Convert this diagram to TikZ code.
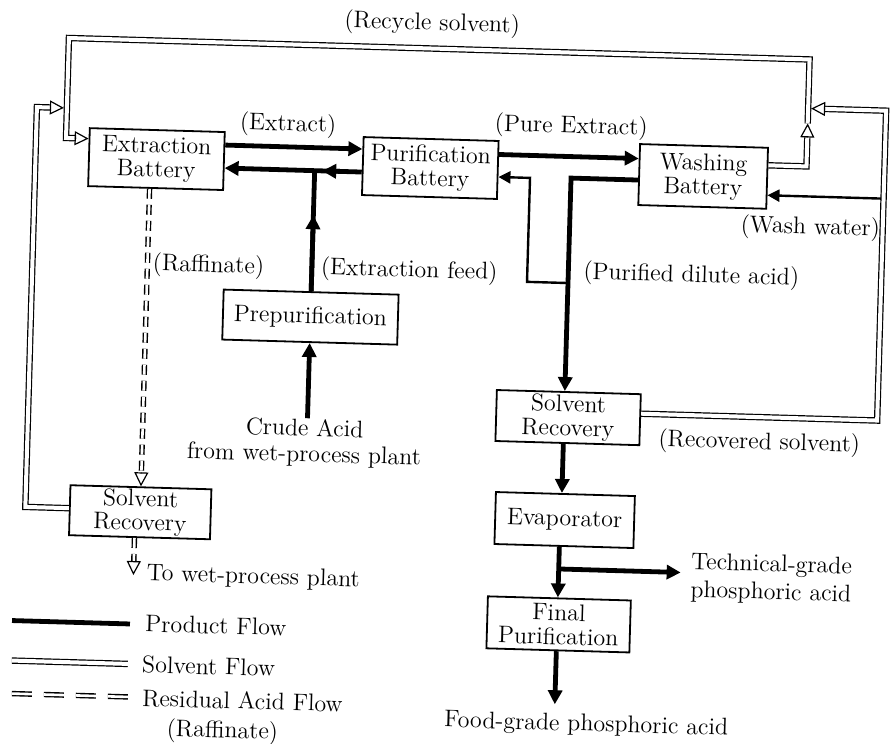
\documentclass[tikz,border=0pt]{standalone}
\usetikzlibrary{arrows.meta,calc}
\tikzset{
  every node/.style={font=\fontsize{12}{12.5}\selectfont, inner sep=0pt},
  box/.style={draw, line width=0.9pt, align=center, inner sep=1pt, font=\fontsize{12}{12}\selectfont},
  prod/.style={line width=2.4pt},
  prodtip/.style={-{Triangle[length=7pt,width=7pt]}},
  prodthin/.style={line width=1.2pt},
  thintip/.style={-{Triangle[length=6pt,width=6pt]}},
  solv/.style={double, double distance=2pt, line width=0.6pt},
  ohead/.style={line width=0.6pt, -{Triangle[open,length=7pt,width=7pt]}},
  raff/.style={double, double distance=1.3pt, line width=0.7pt, dash pattern=on 5pt off 3pt},
  lbl/.style={align=center}
}
\begin{document}
\begin{tikzpicture}[x=0.5pt, y=-0.5pt]
\fill[white] (0,0) rectangle (891,744);
\useasboundingbox (0,0) rectangle (891,744);
\begin{scope}[rotate=-1.66, transform shape]
% boxes
\node[box, minimum width=67.5pt, minimum height=29pt] (EB) at (161,154.5) {Extraction\\Battery};
\node[box, minimum width=67.5pt, minimum height=29pt] (PB) at (435,155.5) {Purification\\Battery};
\node[box, minimum width=64pt, minimum height=30.5pt] (WB) at (708,156) {Washing\\Battery};
\node[box, minimum width=87.5pt, minimum height=25pt] (PP) at (319.5,308) {Prepurification};
\node[box, minimum width=72pt, minimum height=25.5pt] (SR) at (580,401) {Solvent\\Recovery};
\node[box, minimum width=69.5pt, minimum height=26pt] (EV) at (579.5,503.5) {Evaporator};
\node[box, minimum width=71.5pt, minimum height=26pt] (FP) at (576.5,608) {Final\\Purification};
\node[box, minimum width=70.5pt, minimum height=25pt] (SL) at (155,508) {Solvent\\Recovery};
% labels
\node[lbl] (lrec) at (432.7,11.5) {(Recycle solvent)};
\node[lbl] (lext) at (291.6,116.6) {(Extract)};
\node[lbl] (lpure) at (574.7,110.4) {(Pure Extract)};
\node[lbl] (lwash) at (816.6,204.5) {(Wash water)};
\node[lbl] (lpda) at (699,256) {(Purified dilute acid)};
\node[lbl] (lfeed) at (416.9,259.1) {(Extraction feed)};
\node[anchor=west] (lraf) at (160,260) {(Raffinate)};
\node[lbl] (lrs) at (771.8,421) {(Recovered solvent)};
\node[lbl, font=\fontsize{12}{13}\selectfont] (crude) at (317,433.5) {Crude Acid\\from wet-process plant};
\node[anchor=west, align=left, font=\fontsize{12}{14}\selectfont] (tech) at (707,557) {Technical-grade\\phosphoric acid};
\node[lbl] (food) at (607,708) {Food-grade phosphoric acid};
\node[anchor=west] (towet) at (163,570) {To wet-process plant};
% product flows
\draw[prod,prodtip] (EB.east |- 0,138.5) -- (PB.west |- 0,138.5);
\draw[prod,prodtip] (PB.west |- 0,161.5) -- (EB.east |- 0,161.5);
\draw[prod,prodtip] (345,161.5) -- (327,161.5);
\draw[prod] (PP.north) -- (PP.north |- 0,161.5);
\draw[prod,prodtip] (PP.north) -- (PP.north |- 0,206);
\draw[prod,prodtip] (crude.north -| PP.south) -- (PP.south);
\draw[prod,prodtip] (PB.east |- 0,140) -- (WB.west |- 0,140);
\coordinate (c1) at (576,161.5);
\draw[prod,prodtip] (WB.west |- c1) -- (c1) -- (c1 |- SR.north);
\coordinate (c2) at (576,266.5);
\coordinate (c3) at (535,266.5);
\coordinate (c4) at (535,162.5);
\draw[prodthin,thintip] (c2) -- (c3) -- (c4) -- (PB.east |- c4);
\draw[prod,prodtip] (SR.south -| c1) -- (EV.north -| c1);
\coordinate (c5) at (575,552.6);
\coordinate (c6) at (697,552.6);
\coordinate (c7) at (575,688);
\draw[prod,prodtip] (EV.south -| c5) -- (FP.north -| c5);
\draw[prod,prodtip] (c5) -- (c6);
\draw[prod,prodtip] (FP.south -| c5) -- (c7);
\coordinate (ww) at (889,173);
\draw[prodthin,thintip] (ww) -- (WB.east |- ww);
% solvent flows
\coordinate (wbase) at (811,114);
\coordinate (wtip) at (811,100);
\draw[solv] (WB.east |- 0,143) -- (811,143) -- (wbase);
\draw[ohead] (wbase) -- (wtip);
\coordinate (ebbase) at (80,136);
\draw[solv] (wtip) -- (811,36) -- (70,36) -- (70,136) -- (ebbase);
\draw[ohead] (ebbase) -- (EB.west |- ebbase);
\coordinate (rbase) at (828,85);
\coordinate (rtip) at (814,85);
\draw[solv] (SR.east |- 0,395) -- (889,395) -- (889,85) -- (rbase);
\draw[ohead] (rbase) -- (rtip);
\coordinate (lbase) at (54,106);
\coordinate (ltip) at (67,106);
\draw[solv] (SL.west |- 0,506) -- (40,506) -- (40,106) -- (lbase);
\draw[ohead] (lbase) -- (ltip);
% raffinate
\coordinate (r1) at (155,0);
\coordinate (r2) at (155,469);
\draw[raff] (EB.south -| r1) -- (r2);
\draw[ohead] (r2) -- (SL.north -| r1);
\coordinate (o1) at (150,557);
\coordinate (o2) at (150,571);
\draw[raff] (SL.south -| o1) -- (o1);
\draw[ohead] (o1) -- (o2);
% legend
\coordinate (g1) at (30,620); \coordinate (g2) at (148,620);
\draw[prod] (g1) -- (g2);
\node[anchor=west] (gp) at (163,619) {Product Flow};
\coordinate (g3) at (31,660); \coordinate (g4) at (147,660);
\draw[solv] (g3) -- (g4);
\node[anchor=west] (gs) at (161,660) {Solvent Flow};
\coordinate (g5) at (32,693); \coordinate (g6) at (148,693);
\draw[raff, dash pattern=on 10pt off 6pt] (g5) -- (g6);
\node[anchor=west] (gr) at (162,693.5) {Residual Acid Flow};
\node (gr2) at (243.5,725) {(Raffinate)};
\end{scope}
\end{tikzpicture}
\end{document}
